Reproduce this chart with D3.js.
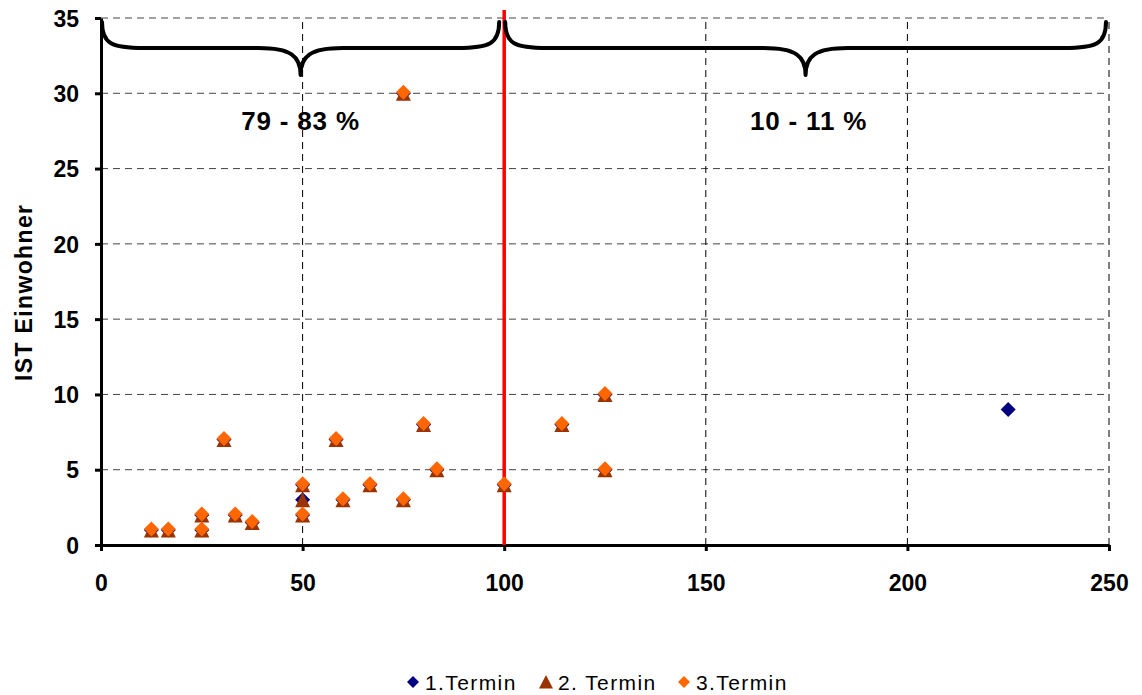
<!DOCTYPE html>
<html>
<head>
<meta charset="utf-8">
<script src="https://cdn.jsdelivr.net/npm/d3@7"></script>
<style>
  body { margin: 0; background: #fff; }
  svg { display: block; font-family: Arial, "Liberation Sans", sans-serif; }
</style>
</head>
<body>
<svg id="chart" width="1142" height="695"></svg>
<script>
// Shared points of all three Termine
const commonX = [12.5, 16.7, 25, 25, 30.5, 33.3, 37.5, 50, 50, 58.3, 60, 66.7, 75, 75, 80, 83.3, 100, 114.3, 125, 125];
const commonY = [1, 1, 1, 2, 7, 2, 1.5, 4, 2, 7, 3, 4, 3, 30, 8, 5, 4, 8, 10, 5];

const termin1X = commonX.concat([50, 225]);
const termin1Y = commonY.concat([3, 9]);
const termin2X = commonX.concat([50]);
const termin2Y = commonY.concat([3]);
const termin3X = commonX;
const termin3Y = commonY;

const seriesNames = ["1.Termin", "2. Termin", "3.Termin"];
const xTicks = [0, 50, 100, 150, 200, 250];
const yTicks = [0, 5, 10, 15, 20, 25, 30, 35];
const threshold = 100;
const bandLabels = ["79 - 83 %", "10 - 11 %"];
const bandRanges = [[0, 99], [100, 249.5]];

const svg = d3.select("#chart");
const x = d3.scaleLinear().domain([0, 250]).range([101, 1109]);
const y = d3.scaleLinear().domain([0, 35]).range([545, 18]);

// Grid
svg.append("g").selectAll("line").data(yTicks.slice(1)).join("line")
  .attr("x1", x(0)).attr("x2", x(250))
  .attr("y1", d => y(d)).attr("y2", d => y(d))
  .attr("stroke", "#444").attr("stroke-width", 1).attr("stroke-dasharray", "7,5");
svg.append("g").selectAll("line").data(xTicks.slice(1)).join("line")
  .attr("x1", d => x(d)).attr("x2", d => x(d))
  .attr("y1", y(0)).attr("y2", y(35))
  .attr("stroke", "#000").attr("stroke-width", 1).attr("stroke-dasharray", "7,5");

// Axes
const xAxis = svg.append("g").attr("transform", `translate(0,${y(0)})`)
  .call(d3.axisBottom(x).tickValues(xTicks).tickSize(6).tickPadding(24).tickSizeOuter(0));
const yAxis = svg.append("g").attr("transform", `translate(${x(0)},0)`)
  .call(d3.axisLeft(y).tickValues(yTicks).tickSize(6).tickPadding(16).tickSizeOuter(0));
[xAxis, yAxis].forEach(a => {
  a.select(".domain").attr("stroke", "#000").attr("stroke-width", 3);
  a.selectAll(".tick line").attr("stroke", "#000").attr("stroke-width", 3);
  a.selectAll(".tick text").attr("font-size", 23).attr("font-weight", "bold")
    .attr("font-family", "Arial, 'Liberation Sans', sans-serif").attr("fill", "#000");
});
yAxis.selectAll(".tick text").attr("dy", "0.36em");

// Y axis title
svg.append("text")
  .attr("transform", `translate(32,293) rotate(-90)`)
  .attr("text-anchor", "middle")
  .attr("font-size", 23).attr("font-weight", "bold")
  .attr("textLength", 176).attr("lengthAdjust", "spacing")
  .text("IST Einwohner");

// Threshold line
svg.append("line")
  .attr("x1", x(threshold)).attr("x2", x(threshold))
  .attr("y1", 10).attr("y2", y(0))
  .attr("stroke", "#ff0000").attr("stroke-width", 3.5);

// Curly braces spanning each band
function bracePath(x0, x1, yTop, yMid, yTip) {
  const xm = (x0 + x1) / 2;
  const r = 42;
  return `M${x0},${yTop}` +
    `C${x0},${yMid - 4} ${x0 + 10},${yMid} ${x0 + r},${yMid}` +
    `L${xm - r},${yMid}` +
    `C${xm - 10},${yMid} ${xm},${yMid + 8} ${xm},${yTip}` +
    `C${xm},${yMid + 8} ${xm + 10},${yMid} ${xm + r},${yMid}` +
    `L${x1 - r},${yMid}` +
    `C${x1 - 10},${yMid} ${x1},${yMid - 4} ${x1},${yTop}`;
}
svg.append("g").selectAll("path").data(bandRanges).join("path")
  .attr("d", d => bracePath(x(d[0]) + 1, x(d[1]) - 1, 22, 48, 75))
  .attr("fill", "none").attr("stroke", "#000").attr("stroke-width", 4)
  .attr("stroke-linecap", "round").attr("stroke-linejoin", "round");

svg.append("g").selectAll("text").data(bandLabels).join("text")
  .attr("x", (d, i) => (x(bandRanges[i][0]) + x(bandRanges[i][1])) / 2 + (i ? 3 : 0))
  .attr("y", 130)
  .attr("text-anchor", "middle")
  .attr("font-size", 26).attr("font-weight", "bold")
  .attr("letter-spacing", 0.8)
  .text(d => d);

// Markers
const diamond = s => `M0,${-s}L${s},0L0,${s}L${-s},0Z`;
const triangle = `M0,-7.5L7.5,7.5L-7.5,7.5Z`;

const s1 = termin1X.map((v, i) => [v, termin1Y[i]]);
const s2 = termin2X.map((v, i) => [v, termin2Y[i]]);
const s3 = termin3X.map((v, i) => [v, termin3Y[i]]);

svg.append("g").selectAll("path").data(s1).join("path")
  .attr("transform", d => `translate(${x(d[0])},${y(d[1])})`)
  .attr("d", diamond(7.5)).attr("fill", "#000080");
svg.append("g").selectAll("path").data(s2).join("path")
  .attr("transform", d => `translate(${x(d[0])},${y(d[1])})`)
  .attr("d", triangle).attr("fill", "#993300");
svg.append("g").selectAll("path").data(s3).join("path")
  .attr("transform", d => `translate(${x(d[0])},${y(d[1]) - 1})`)
  .attr("d", diamond(7.5)).attr("fill", "#ff6600");

// Legend
const legendItems = [
  { name: seriesNames[0], shape: diamond(6), color: "#000080", x: 413 },
  { name: seriesNames[1], shape: "M0,-7L7,6.5L-7,6.5Z", color: "#993300", x: 546 },
  { name: seriesNames[2], shape: diamond(6), color: "#ff6600", x: 684 }
];
const lg = svg.append("g").selectAll("g").data(legendItems).join("g")
  .attr("transform", d => `translate(${d.x},682)`);
lg.append("path").attr("d", d => d.shape).attr("fill", d => d.color);
lg.append("text").attr("x", 12).attr("y", 8)
  .attr("font-size", 21).attr("letter-spacing", 1.4).text(d => d.name);
</script>
</body>
</html>
